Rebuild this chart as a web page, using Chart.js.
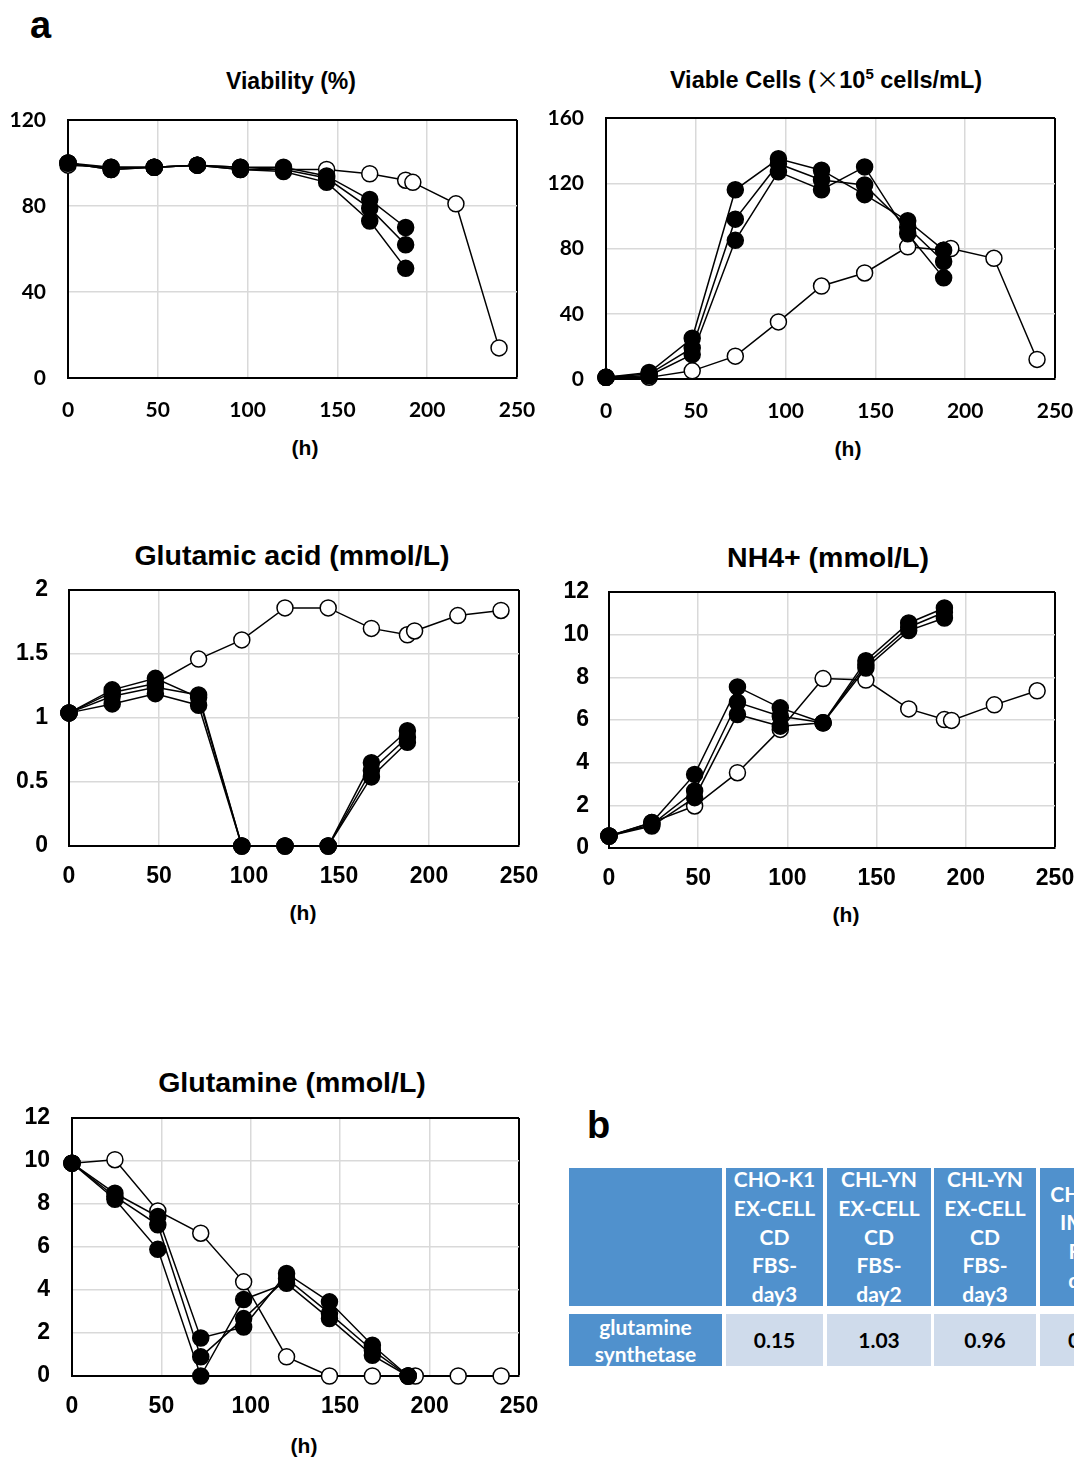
<!DOCTYPE html>
<html>
<head>
<meta charset="utf-8">
<script src="https://cdn.jsdelivr.net/npm/chart.js@4.4.1/dist/chart.umd.min.js"></script>
<style>
html, body { margin: 0; padding: 0; background: #fff; }
body { position: relative; width: 1074px; height: 1458px; overflow: hidden; font-family: "Liberation Sans", Arial, sans-serif; }
.lbl { position: absolute; width: 400px; text-align: center; font-weight: bold; color: #000; white-space: nowrap; line-height: 1; }
.panel { position: absolute; font-weight: bold; line-height: 1; }
canvas { position: absolute; }
.cell { position: absolute; display: flex; flex-direction: column; justify-content: center; align-items: center;
        font-family: Lato, "Open Sans", sans-serif; font-weight: bold; font-size: 21px; line-height: 28.7px; text-align: center; }
.hd { background: #5091cd; color: #fff; }
.bd { background: #cfdbeb; color: #000; }
.times { font-family: "Noto Sans CJK JP", sans-serif; font-weight: normal; }
</style>
</head>
<body>

<div class="panel" style="left:30px; top:6px; font-size:38px;">a</div>
<div class="panel" style="left:587px; top:1106px; font-size:38px;">b</div>

<div class="lbl" style="left:91px; top:70px; font-size:23px;">Viability (%)</div>
<div class="lbl" style="left:626px; top:66px; font-size:23.5px;">Viable Cells (<span class="times">×</span>10<sup style="font-size:15px; vertical-align:9px;">5</sup> cells/mL)</div>
<div class="lbl" style="left:92px; top:541px; font-size:28.5px;">Glutamic acid (mmol/L)</div>
<div class="lbl" style="left:628px; top:543px; font-size:28.5px;">NH4+ (mmol/L)</div>
<div class="lbl" style="left:92px; top:1068px; font-size:28.5px;">Glutamine (mmol/L)</div>

<div class="lbl" style="left:105px; top:437px; font-size:21px;">(h)</div>
<div class="lbl" style="left:648px; top:438px; font-size:21px;">(h)</div>
<div class="lbl" style="left:103px; top:902px; font-size:21px;">(h)</div>
<div class="lbl" style="left:646px; top:904px; font-size:21px;">(h)</div>
<div class="lbl" style="left:104px; top:1435px; font-size:21px;">(h)</div>

<canvas id="viability"></canvas>
<canvas id="viable"></canvas>
<canvas id="glutamic"></canvas>
<canvas id="ammonium"></canvas>
<canvas id="glutamine"></canvas>

<!-- table b -->
<div class="cell hd" style="left:569px; top:1168px; width:153px; height:138px;"></div>
<div class="cell hd" style="left:726px; top:1168px; width:97px; height:138px;"><div>CHO-K1</div><div>EX-CELL</div><div>CD</div><div>FBS-</div><div>day3</div></div>
<div class="cell hd" style="left:827px; top:1168px; width:104px; height:138px;"><div>CHL-YN</div><div>EX-CELL</div><div>CD</div><div>FBS-</div><div>day2</div></div>
<div class="cell hd" style="left:934px; top:1168px; width:102px; height:138px;"><div>CHL-YN</div><div>EX-CELL</div><div>CD</div><div>FBS-</div><div>day3</div></div>
<div class="cell hd" style="left:1040px; top:1168px; width:102px; height:138px;"><div>CHO-K1</div><div>IMDM</div><div>FBS-</div><div>day3</div></div>
<div class="cell hd" style="left:569px; top:1314px; width:153px; height:52px; line-height:27px;"><div>glutamine</div><div>synthetase</div></div>
<div class="cell bd" style="left:726px; top:1314px; width:97px; height:52px;">0.15</div>
<div class="cell bd" style="left:827px; top:1314px; width:104px; height:52px;">1.03</div>
<div class="cell bd" style="left:934px; top:1314px; width:102px; height:52px;">0.96</div>
<div class="cell bd" style="left:1040px; top:1314px; width:102px; height:52px; align-items:flex-start;"><div style="padding-left:28px;">0</div></div>

<script>
// sampling times (h)
const hoursOpen = [0, 24, 48, 72, 96, 120, 144, 168, 188, 192, 216, 240];
const hoursFilled = [0, 24, 48, 72, 96, 120, 144, 168, 188];

// Viability (%)
const viabOpen = [99, 98, 98, 99, 98, 97, 97, 95, 92, 91, 81, 14];
const viabA = [100, 98, 98, 99, 98, 98, 94, 83, 70];
const viabB = [100, 97, 98, 99, 97, 97, 93, 79, 62];
const viabC = [100, 97, 98, 99, 97, 96, 91, 73, 51];

// Viable cells (x10^5 cells/mL)
const cellsOpen = [1, 1, 5, 14, 35, 57, 65, 81, 79, 80, 74, 12];
const cellsA = [1, 4, 25, 116, 135, 128, 113, 97, 79];
const cellsB = [1, 3, 19, 98, 132, 122, 119, 93, 72];
const cellsC = [1, 2, 15, 85, 127, 116, 130, 89, 62];

// Glutamic acid (mmol/L)
const gluOpen = [1.04, 1.2, 1.27, 1.46, 1.61, 1.86, 1.86, 1.70, 1.65, 1.68, 1.80, 1.84];
const gluA = [1.04, 1.22, 1.31, 1.16, 0, 0, 0, 0.65, 0.90];
const gluB = [1.04, 1.17, 1.24, 1.18, 0, 0, 0, 0.59, 0.85];
const gluC = [1.04, 1.11, 1.19, 1.10, 0, 0, 0, 0.54, 0.81];

// NH4+ (mmol/L)
const nh4Open = [0.56, 1.2, 1.97, 3.53, 5.56, 7.94, 7.87, 6.52, 6.02, 5.98, 6.71, 7.37];
const nh4A = [0.56, 1.19, 3.45, 7.55, 6.57, 5.87, 8.78, 10.55, 11.25];
const nh4B = [0.56, 1.10, 2.67, 6.83, 6.18, 5.87, 8.60, 10.35, 11.05];
const nh4C = [0.56, 1.03, 2.36, 6.26, 5.71, 5.87, 8.44, 10.19, 10.78];

// Glutamine (mmol/L)
const glnOpen = [9.9, 10.06, 7.68, 6.64, 4.38, 0.89, 0, 0, 0, 0, 0, 0];
const glnA = [9.9, 8.5, 7.42, 1.77, 2.28, 4.77, 3.45, 1.43, 0];
const glnB = [9.9, 8.35, 7.03, 0.89, 2.67, 4.54, 2.91, 1.20, 0];
const glnC = [9.9, 8.22, 5.89, 0, 3.56, 4.31, 2.67, 0.96, 0];

const xMax = 250;
const xStep = 50;

function toPoints(xs, ys) {
    return xs.map((x, i) => ({ x: x, y: ys[i] }));
}

function makePanel(id, plot, yMax, yStep, openVals, filledSets, tickFont, xPad, yPad) {
    const canvas = document.getElementById(id);
    const yW = 70, xH = 100, padTop = 40, padRight = 45;
    const left = plot.l - yW, top = plot.t - padTop;
    canvas.width = plot.r + padRight - left;
    canvas.height = plot.b + xH - top;
    canvas.style.left = left + 'px';
    canvas.style.top = top + 'px';

    const filled = filledSets.map(vals => ({
        data: toPoints(hoursFilled, vals),
        borderColor: '#000',
        borderWidth: 1.5,
        pointRadius: 8,
        pointBackgroundColor: '#000',
        pointBorderColor: '#000',
        pointBorderWidth: 1.5,
        clip: false
    }));
    const open = {
        data: toPoints(hoursOpen, openVals),
        borderColor: '#000',
        borderWidth: 1.5,
        pointRadius: 8,
        pointBackgroundColor: '#fff',
        pointBorderColor: '#000',
        pointBorderWidth: 1.5,
        clip: false
    };

    const edge = (max) => (ctx) => (ctx.tick && ctx.tick.value === max ? '#000' : '#d9d9d9');
    const edgeW = (max) => (ctx) => (ctx.tick && ctx.tick.value === max ? 2 : 1.5);

    return new Chart(canvas, {
        type: 'line',
        data: { datasets: filled.concat([open]) },
        options: {
            responsive: false,
            animation: false,
            events: [],
            layout: { padding: { left: 0, top: padTop, right: padRight, bottom: 0 } },
            plugins: { legend: { display: false }, tooltip: { enabled: false } },
            scales: {
                x: {
                    type: 'linear',
                    min: 0,
                    max: xMax,
                    ticks: { stepSize: xStep, padding: xPad, color: '#000', font: tickFont },
                    grid: { color: edge(xMax), lineWidth: edgeW(xMax), drawTicks: false },
                    border: { color: '#000', width: 2 },
                    afterFit: (s) => { s.height = xH; }
                },
                y: {
                    min: 0,
                    max: yMax,
                    ticks: { stepSize: yStep, padding: yPad, color: '#000', font: tickFont, callback: (v) => String(v) },
                    grid: { color: edge(yMax), lineWidth: edgeW(yMax), drawTicks: false },
                    border: { color: '#000', width: 2 },
                    afterFit: (s) => { s.width = yW; }
                }
            }
        }
    });
}

const topFont = { family: 'Lato', weight: 'bold', size: 21 };
const lowFont = { family: 'Liberation Sans', weight: 'bold', size: 23 };

makePanel('viability', { l: 68, t: 120, r: 517, b: 378 }, 120, 40, viabOpen, [viabA, viabB, viabC], topFont, 20, 22);
makePanel('viable', { l: 606, t: 118, r: 1055, b: 379 }, 160, 40, cellsOpen, [cellsA, cellsB, cellsC], topFont, 20, 22);
makePanel('glutamic', { l: 69, t: 590, r: 519, b: 846 }, 2, 0.5, gluOpen, [gluA, gluB, gluC], lowFont, 17, 21);
makePanel('ammonium', { l: 609, t: 592, r: 1055, b: 848 }, 12, 2, nh4Open, [nh4A, nh4B, nh4C], lowFont, 17, 20);
makePanel('glutamine', { l: 72, t: 1118, r: 519, b: 1376 }, 12, 2, glnOpen, [glnA, glnB, glnC], lowFont, 17, 22);
</script>
</body>
</html>
